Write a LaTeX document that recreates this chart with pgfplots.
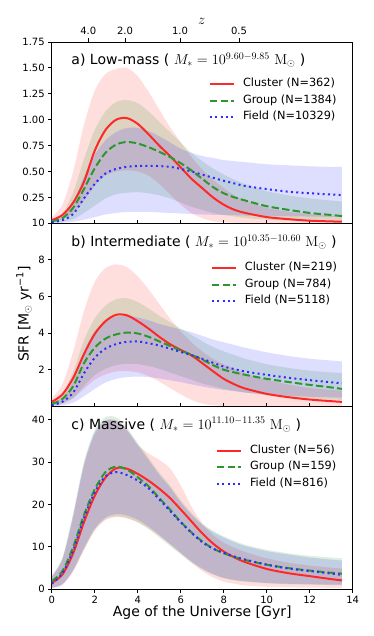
\documentclass[border=0pt]{standalone}
\usepackage[no-math]{fontspec}
\setmainfont{DejaVu Sans}
\usepackage{pgfplots}
\usepackage{pgfplotstable}
\pgfplotsset{compat=1.18}
\usepgfplotslibrary{fillbetween}

\definecolor{cR}{RGB}{255,40,40}
\definecolor{cG}{RGB}{45,150,45}
\definecolor{cB}{RGB}{45,45,255}
\definecolor{fR}{RGB}{255,0,0}
\definecolor{fG}{RGB}{0,128,0}
\definecolor{fB}{RGB}{0,0,255}

\pgfplotstableread{
t     r      rl     ru     g      gl     gu     b      bl     bu
0     0.03   0.015  0.06   0.02   0.005  0.04   0.01   0.0    0.02
0.5   0.08   0.04   0.18   0.05   0.015  0.09   0.03   0.005  0.06
1     0.20   0.10   0.50   0.15   0.04   0.30   0.09   0.015  0.20
1.5   0.40   0.22   0.95   0.33   0.10   0.62   0.24   0.035  0.45
2     0.70   0.36   1.28   0.53   0.17   0.90   0.38   0.06   0.66
2.5   0.90   0.46   1.44   0.68   0.24   1.08   0.48   0.085  0.80
3     1.00   0.50   1.49   0.76   0.28   1.17   0.525  0.10   0.88
3.5   1.015  0.51   1.50   0.785  0.295  1.19   0.545  0.11   0.92
4     0.96   0.50   1.42   0.77   0.30   1.16   0.553  0.11   0.92
4.5   0.86   0.46   1.27   0.735  0.29   1.08   0.555  0.11   0.89
5     0.75   0.38   1.10   0.69   0.27   0.98   0.552  0.105  0.84
5.5   0.65   0.28   0.93   0.64   0.24   0.88   0.545  0.10   0.78
6     0.54   0.18   0.78   0.58   0.20   0.78   0.525  0.095  0.72
6.5   0.43   0.10   0.64   0.51   0.16   0.68   0.50   0.09   0.68
7     0.34   0.05   0.52   0.43   0.13   0.60   0.47   0.085  0.65
7.5   0.25   0.02   0.42   0.35   0.10   0.53   0.44   0.082  0.63
8     0.18   0.01   0.34   0.29   0.08   0.47   0.41   0.08   0.61
8.5   0.13   0.005  0.27   0.25   0.065  0.42   0.385  0.078  0.60
9     0.10   0.0    0.22   0.22   0.05   0.38   0.36   0.075  0.59
10    0.06   0.0    0.15   0.165  0.035  0.31   0.33   0.07   0.57
11    0.04   0.0    0.11   0.13   0.025  0.27   0.305  0.068  0.56
12    0.025  0.0    0.09   0.10   0.02   0.24   0.29   0.065  0.55
13    0.018  0.0    0.07   0.08   0.016  0.22   0.278  0.062  0.545
13.5  0.015  0.0    0.06   0.07   0.015  0.21   0.272  0.06   0.545
}\ta

\pgfplotstableread{
t     r     rl    ru    g     gl    gu    b     bl    bu
0     0.24  0.04  0.45  0.13  0.04  0.25  0.05  0.0   0.15
0.5   0.65  0.15  1.2   0.4   0.15  0.7   0.25  0.05  0.5
1     1.55  0.45  3.0   1.1   0.45  1.9   0.75  0.2   1.4
1.5   2.85  0.95  5.2   2.35  1.1   3.6   1.8   0.55  3.0
2     3.95  1.45  6.8   3.2   1.7   4.8   2.65  0.95  4.1
2.5   4.65  1.75  7.55  3.7   2.05  5.5   3.15  1.3   4.65
3     5.0   1.9   7.75  3.93  2.25  5.85  3.4   1.5   4.9
3.5   4.97  1.92  7.6   4.03  2.32  5.9   3.52  1.6   4.95
4     4.65  1.85  7.1   3.98  2.3   5.7   3.54  1.62  4.85
4.5   4.25  1.65  6.4   3.8   2.2   5.35  3.45  1.6   4.7
5     3.8   1.35  5.6   3.55  2.05  4.95  3.32  1.52  4.5
5.5   3.4   1.0   4.8   3.3   1.85  4.6   3.15  1.42  4.35
6     3.08  0.65  4.1   3.05  1.65  4.25  2.97  1.32  4.2
6.5   2.78  0.35  3.5   2.82  1.45  3.9   2.8   1.2   4.05
7     2.36  0.15  3.0   2.55  1.25  3.55  2.6   1.08  3.85
7.5   1.92  0.05  2.6   2.25  1.1   3.25  2.38  0.98  3.65
8     1.5   0.02  2.3   2.0   0.95  3.0   2.17  0.9   3.5
8.5   1.2   0.01  2.05  1.85  0.85  2.8   2.03  0.82  3.35
9     0.97  0.0   1.8   1.72  0.75  2.6   1.9   0.75  3.2
10    0.68  0.0   1.45  1.5   0.6   2.3   1.72  0.65  2.95
11    0.5   0.0   1.2   1.33  0.5   2.1   1.56  0.58  2.75
12    0.37  0.0   1.0   1.17  0.42  1.95  1.43  0.52  2.6
13    0.28  0.0   0.9   1.03  0.37  1.85  1.31  0.49  2.5
13.5  0.24  0.0   0.85  0.95  0.35  1.82  1.26  0.47  2.45
}\tb

\pgfplotstableread{
t     r     rl    ru    g     gl    gu    b     bl    bu
0     1.5   0.3   3.0   1.9   0.4   3.2   1.3   0.4   3.0
0.5   3.5   1.0   7.0   4.3   1.2   7.5   3.8   1.2   7.2
1     8.5   4.2   17.0  10.0  4.5   18.0  9.2   4.5   17.5
1.5   15.8  9.2   29.0  17.5  9.5   30.0  16.8  9.7   29.5
2     22.0  13.8  36.5  23.5  14.0  37.5  22.8  14.3  37.0
2.5   26.3  16.3  39.5  27.6  16.5  40.5  26.6  16.9  39.8
3     28.5  17.0  39.8  28.9  17.2  40.5  27.6  17.7  39.7
3.5   28.4  16.7  37.5  28.2  16.8  38.0  26.9  17.4  37.5
4     27.2  15.8  34.0  26.4  15.8  34.5  25.6  16.4  34.0
4.5   25.6  14.4  32.0  24.3  14.2  31.0  23.8  14.8  30.5
5     23.7  12.6  30.5  21.5  12.2  27.5  21.2  12.8  27.0
5.5   21.5  10.6  28.5  18.8  10.2  24.5  18.5  10.7  24.0
6     18.8  8.5   24.5  15.9  8.2   21.0  15.8  8.6   20.5
6.5   16.0  6.3   19.5  13.4  6.3   18.0  13.3  6.6   17.6
7     13.2  4.3   15.5  11.3  4.7   15.5  11.1  4.9   15.2
7.5   10.8  2.8   12.8  9.6   3.5   13.8  9.6   3.6   13.5
8     8.9   1.8   11.0  8.5   2.6   12.5  8.6   2.7   12.2
8.5   7.5   1.3   9.8   7.6   2.1   11.4  7.7   2.2   11.1
9     6.4   0.9   8.8   6.9   1.8   10.5  7.0   1.9   10.2
10    4.8   0.6   7.3   5.8   1.4   9.3   5.8   1.5   9.0
11    3.8   0.45  6.3   5.0   1.2   8.5   4.9   1.3   8.2
12    3.1   0.4   5.6   4.4   1.1   7.9   4.3   1.2   7.5
13    2.4   0.35  5.1   3.9   1.0   7.5   3.7   1.1   7.0
13.5  2.1   0.35  4.9   3.7   1.0   7.3   3.4   1.1   6.8
}\tc

\newcommand{\band}[5]{% table, name, lower col, upper col, colour
  \addplot[name path=U#2, draw=none, smooth, forget plot] table[x=t,y=#4]{#1};
  \addplot[name path=L#2, draw=none, smooth, forget plot] table[x=t,y=#3]{#1};
  \addplot[fill=#5, fill opacity=0.13, draw=none, forget plot] fill between[of=U#2 and L#2];
}
\newcommand{\curves}[4]{% table, n1, n2, n3
  \addplot[cR, line width=2pt, smooth] table[x=t,y=r]{#1};
  \addlegendentry{Cluster (N=#2)}
  \addplot[cG, line width=2pt, smooth, dash pattern=on 7.4pt off 3.2pt] table[x=t,y=g]{#1};
  \addlegendentry{Group (N=#3)}
  \addplot[cB, line width=2pt, smooth, dash pattern=on 2pt off 3.3pt] table[x=t,y=b]{#1};
  \addlegendentry{Field (N=#4)}
}

\pgfplotsset{
  panel/.style={
    scale only axis, width=301pt, xmin=0, xmax=14,
    axis line style={line width=0.8pt, black},
    tick style={line width=0.8pt, black},
    major tick length=3.5pt,
    tick align=outside,
    ytick pos=left,
    xtick={0,2,...,14},
    tick label style={font=\fontsize{10}{12}\selectfont},
    /pgf/number format/assume math mode=true,
    legend cell align=left,
    legend style={draw=none, fill=none, inner sep=0pt, outer sep=0pt,
      font=\fontsize{11.3}{13}\selectfont,
      nodes={inner sep=0pt, text height=8pt, text depth=2.5pt},
      row sep=6pt, column sep=8pt, anchor=north west},
    legend image code/.code={\draw[##1] (0pt,0pt) -- (24pt,0pt);},
  },
}

\begin{document}
\begin{tikzpicture}

% Panel a
\begin{axis}[panel, at={(51.7pt,412.7pt)}, anchor=south west, height=181.3pt,
  ymin=0, ymax=1.75, ytick={0.25,0.5,...,1.75},
  yticklabel style={/pgf/number format/.cd, fixed, fixed zerofill, precision=2},
  xmajorticks=false,
  legend style={at={(rel axis cs:0.5226,0.797)}}]
\band{\ta}{ar}{rl}{ru}{fR}
\band{\ta}{ag}{gl}{gu}{fG}
\band{\ta}{ab}{bl}{bu}{fB}
\curves{\ta}{362}{1384}{10329}
\node[anchor=west, font=\fontsize{14}{16}\selectfont] at (rel axis cs:0.054,0.90)
  {a) Low-mass ( $M_*=10^{9.60-9.85}\ \mathrm{M}_\odot$ )};
\end{axis}

% top z axis
\begin{axis}[scale only axis, width=301pt, height=181.3pt, at={(51.7pt,412.7pt)}, anchor=south west,
  xmin=0, xmax=14, ymin=0, ymax=1,
  axis x line*=top, axis y line=none,
  axis line style={line width=0.8pt, black},
  tick style={line width=0.8pt, black}, major tick length=3.5pt,
  tick align=outside,
  xtick={1.70,3.41,5.97,8.71}, xticklabels={4.0,2.0,1.0,0.5},
  tick label style={font=\fontsize{10}{12}\selectfont},
  xlabel={$z$}, xlabel style={font=\fontsize{14}{16}\selectfont, at={(axis description cs:0.498,1.115)}, anchor=center}]
\addplot[draw=none] coordinates {(0,0) (14,1)};
\end{axis}

% Panel b
\begin{axis}[panel, at={(51.7pt,229.7pt)}, anchor=south west, height=183pt,
  ymin=0, ymax=10, ytick={2,4,6,8,10},
  xtick pos=right, xticklabels={},
  ylabel={SFR [M\textsubscript{$\odot$} yr\textsuperscript{−1}]},
  ylabel style={font=\fontsize{14}{16}\selectfont, at={(axis description cs:-0.092,0.504)}, anchor=center},
  legend style={at={(rel axis cs:0.529,0.784)}}]
\band{\tb}{br}{rl}{ru}{fR}
\band{\tb}{bg}{gl}{gu}{fG}
\band{\tb}{bb}{bl}{bu}{fB}
\curves{\tb}{219}{784}{5118}
\node[anchor=west, font=\fontsize{14}{16}\selectfont] at (rel axis cs:0.054,0.898)
  {b) Intermediate ( $M_*=10^{10.35-10.60}\ \mathrm{M}_\odot$ )};
\end{axis}

% Panel c
\begin{axis}[panel, at={(51.7pt,46.7pt)}, anchor=south west, height=183pt,
  ymin=0, ymax=43.1, ytick={0,10,20,30,40},
  xtick pos=both,
  xlabel={Age of the Universe [Gyr]},
  xlabel style={font=\fontsize{14}{16}\selectfont, at={(axis description cs:0.5,-0.1295)}, anchor=center},
  legend style={at={(rel axis cs:0.546,0.786)}}]
\band{\tc}{cr}{rl}{ru}{fR}
\band{\tc}{cg}{gl}{gu}{fG}
\band{\tc}{cb}{bl}{bu}{fB}
\curves{\tc}{56}{159}{816}
\node[anchor=west, font=\fontsize{14}{16}\selectfont] at (rel axis cs:0.054,0.899)
  {c) Massive ( $M_*=10^{11.10-11.35}\ \mathrm{M}_\odot$ )};
\end{axis}

\path (0pt,0pt) rectangle (374pt,636pt);
\end{tikzpicture}
\end{document}
